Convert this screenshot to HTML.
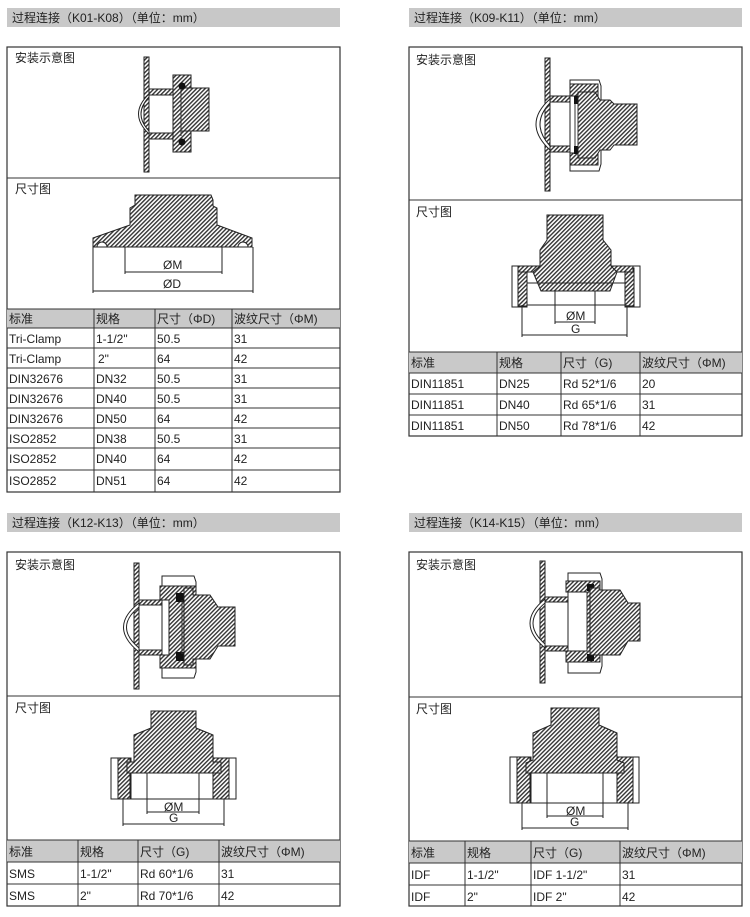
<!DOCTYPE html>
<html><head><meta charset="utf-8"><style>
body{margin:0;background:#fff;}
svg{display:block;font-family:"Liberation Sans","Noto Sans CJK SC",sans-serif;}
text{font-size:12px;fill:#222;}
.hb{fill:#c8c8c8}
.th{fill:#c9c9c9}
.bx{fill:none;stroke:#333;stroke-width:1.2}
.ln{stroke:#333;stroke-width:1}
.h{fill:url(#h);stroke:#222;stroke-width:1}
.w{fill:#fff;stroke:#222;stroke-width:1}
.k{fill:#111}
.d{stroke:#222;stroke-width:1;fill:none}
</style></head><body>
<svg width="750" height="917" viewBox="0 0 750 917">
<defs>
<pattern id="h" width="3" height="3" patternUnits="userSpaceOnUse" patternTransform="rotate(45)">
<rect width="3" height="3" fill="#fff"/><rect width="1.4" height="3" fill="#333"/>
</pattern>
</defs>

<!-- ============ TL ============ -->
<rect class="hb" x="7" y="8" width="333" height="19"/>
<text x="12" y="22">过程连接（K01-K08）（单位：mm）</text>
<rect class="bx" x="7" y="47" width="333" height="445"/>
<line class="ln" x1="7" y1="178" x2="340" y2="178"/>
<text x="15" y="62">安装示意图</text>
<text x="15" y="193">尺寸图</text>
<rect class="h" x="144" y="57" width="5" height="115"/>
<path class="w" d="M149 94 Q128 114 149 134 L149 131 Q133 114 149 97Z"/>
<rect class="h" x="149" y="89" width="32" height="6"/>
<rect class="h" x="149" y="133" width="32" height="6"/>
<rect class="h" x="173" y="75" width="18" height="77"/>
<rect class="h" x="181" y="88" width="28" height="43"/>
<line class="ln" x1="181" y1="92" x2="181" y2="136"/>
<circle class="k" cx="182" cy="86" r="3.5"/><circle class="k" cx="182" cy="142" r="3.5"/>
<path class="h" d="M93 238 L130 225 L130 208 L135 205 L135 195 L211 195 L213 200 L213 206 L217 208 L217 225 L252 238 L252 247 L93 247Z"/>
<path class="w" d="M97 247 A5 5 0 0 1 107 247Z"/><path class="w" d="M238 247 A5 5 0 0 1 248 247Z"/>
<line class="d" x1="125" y1="247" x2="125" y2="274"/><line class="d" x1="222" y1="247" x2="222" y2="274"/>
<line class="d" x1="93" y1="247" x2="93" y2="293"/><line class="d" x1="253" y1="247" x2="253" y2="293"/>
<line class="d" x1="125" y1="272" x2="222" y2="272"/><line class="d" x1="93" y1="291" x2="253" y2="291"/>
<text x="163" y="269">ØM</text><text x="163" y="288">ØD</text>
<rect class="th" x="7" y="309" width="333" height="19"/>
<g class="ln">
<line x1="7" y1="309" x2="340" y2="309"/><line x1="7" y1="328" x2="340" y2="328"/>
<line x1="7" y1="348" x2="340" y2="348"/><line x1="7" y1="368" x2="340" y2="368"/>
<line x1="7" y1="388" x2="340" y2="388"/><line x1="7" y1="408" x2="340" y2="408"/>
<line x1="7" y1="428" x2="340" y2="428"/><line x1="7" y1="448" x2="340" y2="448"/>
<line x1="7" y1="470" x2="340" y2="470"/>
<line x1="94" y1="309" x2="94" y2="492"/><line x1="155" y1="309" x2="155" y2="492"/><line x1="232" y1="309" x2="232" y2="492"/>
</g>
<g>
<text x="9" y="323">标准</text><text x="96" y="323">规格</text><text x="157" y="323">尺寸（ΦD)</text><text x="234" y="323">波纹尺寸（ΦM)</text>
<text x="9" y="343">Tri-Clamp</text><text x="96" y="343">1-1/2"</text><text x="157" y="343">50.5</text><text x="234" y="343">31</text>
<text x="9" y="363">Tri-Clamp</text><text x="98" y="363">2"</text><text x="157" y="363">64</text><text x="234" y="363">42</text>
<text x="9" y="383">DIN32676</text><text x="96" y="383">DN32</text><text x="157" y="383">50.5</text><text x="234" y="383">31</text>
<text x="9" y="403">DIN32676</text><text x="96" y="403">DN40</text><text x="157" y="403">50.5</text><text x="234" y="403">31</text>
<text x="9" y="423">DIN32676</text><text x="96" y="423">DN50</text><text x="157" y="423">64</text><text x="234" y="423">42</text>
<text x="9" y="443">ISO2852</text><text x="96" y="443">DN38</text><text x="157" y="443">50.5</text><text x="234" y="443">31</text>
<text x="9" y="463">ISO2852</text><text x="96" y="463">DN40</text><text x="157" y="463">64</text><text x="234" y="463">42</text>
<text x="9" y="485">ISO2852</text><text x="96" y="485">DN51</text><text x="157" y="485">64</text><text x="234" y="485">42</text>
</g>

<!-- ============ TR ============ -->
<rect class="hb" x="409" y="8" width="333" height="19"/>
<text x="414" y="22">过程连接（K09-K11）（单位：mm）</text>
<rect class="bx" x="409" y="47" width="333" height="389"/>
<line class="ln" x1="409" y1="200" x2="742" y2="200"/>
<text x="416" y="64">安装示意图</text>
<text x="416" y="216">尺寸图</text>
<rect class="h" x="545" y="58" width="5" height="133"/>
<path class="w" d="M550 99 Q522 124 550 150 L550 146 Q530 124 550 103Z"/>
<rect class="h" x="550" y="96" width="30" height="6"/>
<rect class="h" x="550" y="146" width="30" height="6"/>
<path class="w" d="M570 80 L599 80 L601 86 L601 164 L599 171 L570 171Z"/>
<rect class="h" x="570" y="84" width="28" height="12"/>
<rect class="h" x="570" y="153" width="28" height="12"/>
<rect class="k" x="574" y="96" width="6" height="8"/><rect class="k" x="574" y="146" width="6" height="8"/>
<path class="h" d="M578 92 L595 92 L600 100 L610 100 L614 104 L637 104 L637 145 L614 145 L610 150 L600 150 L595 158 L578 158Z"/>
<line class="ln" x1="578" y1="104" x2="578" y2="146"/><line class="ln" x1="575" y1="104" x2="575" y2="146"/>
<rect class="w" x="512" y="266" width="15" height="41"/><rect class="w" x="625" y="266" width="15" height="41"/>
<rect class="h" x="518" y="268" width="9" height="38"/><rect class="h" x="625" y="268" width="9" height="38"/>
<rect class="h" x="518" y="266" width="22" height="6"/><rect class="h" x="611" y="266" width="22" height="6"/>
<path class="h" d="M547 215 L603 215 L603 240 L611 250 L611 266 L617 272 L610 291 L541 291 L533 272 L540 266 L540 250 L547 240Z"/>
<line class="d" x1="527" y1="283" x2="625" y2="283"/>
<line class="d" x1="527" y1="305" x2="625" y2="305"/>
<line class="d" x1="555" y1="291" x2="555" y2="324"/><line class="d" x1="595" y1="291" x2="595" y2="324"/>
<line class="d" x1="522" y1="305" x2="522" y2="337"/><line class="d" x1="627" y1="305" x2="627" y2="337"/>
<line class="d" x1="555" y1="322" x2="595" y2="322"/><line class="d" x1="522" y1="335" x2="627" y2="335"/>
<text x="566" y="320">ØM</text><text x="571" y="333">G</text>
<rect class="th" x="409" y="352" width="333" height="21"/>
<g class="ln">
<line x1="409" y1="352" x2="742" y2="352"/><line x1="409" y1="373" x2="742" y2="373"/>
<line x1="409" y1="394" x2="742" y2="394"/><line x1="409" y1="415" x2="742" y2="415"/>
<line x1="497" y1="352" x2="497" y2="436"/><line x1="561" y1="352" x2="561" y2="436"/><line x1="640" y1="352" x2="640" y2="436"/>
</g>
<text x="411" y="367">标准</text><text x="499" y="367">规格</text><text x="563" y="367">尺寸（G)</text><text x="642" y="367">波纹尺寸（ΦM)</text>
<text x="411" y="388">DIN11851</text><text x="499" y="388">DN25</text><text x="563" y="388">Rd 52*1/6</text><text x="642" y="388">20</text>
<text x="411" y="409">DIN11851</text><text x="499" y="409">DN40</text><text x="563" y="409">Rd 65*1/6</text><text x="642" y="409">31</text>
<text x="411" y="430">DIN11851</text><text x="499" y="430">DN50</text><text x="563" y="430">Rd 78*1/6</text><text x="642" y="430">42</text>

<!-- ============ BL ============ -->
<rect class="hb" x="7" y="513" width="333" height="19"/>
<text x="12" y="527">过程连接（K12-K13）（单位：mm）</text>
<rect class="bx" x="7" y="552" width="333" height="354"/>
<line class="ln" x1="7" y1="696" x2="340" y2="696"/>
<text x="15" y="569">安装示意图</text>
<text x="15" y="712">尺寸图</text>
<rect class="h" x="134" y="563" width="5" height="126"/>
<path class="w" d="M139 603 Q108 627 139 652 L139 648 Q114 627 139 607Z"/>
<rect class="h" x="139" y="600" width="30" height="5"/>
<rect class="h" x="139" y="650" width="30" height="5"/>
<path class="w" d="M162 576 L194 576 L196 582 L196 672 L194 678 L162 678Z"/>
<path class="h" d="M160 586 L196 586 L196 668 L160 668 L160 655 L169 655 L169 600 L160 600Z"/>
<rect class="k" x="176" y="593" width="8" height="9"/><rect class="k" x="176" y="652" width="8" height="9"/>
<path class="h" d="M184 588 L193 588 L193 595 L210 595 L218 607 L235 607 L235 646 L218 646 L210 659 L193 659 L193 665 L184 665Z"/>
<line class="ln" x1="182" y1="600" x2="182" y2="654"/>
<rect class="w" x="111" y="758" width="20" height="41"/><rect class="w" x="213" y="758" width="23" height="41"/>
<rect class="h" x="118" y="758" width="12" height="41"/><rect class="h" x="213" y="758" width="16" height="41"/>
<path class="h" d="M151 711 L196 711 L196 728 L213 735 L213 762 L221 762 L221 773 L127 773 L127 762 L134 762 L134 735 L151 728Z"/>
<line class="d" x1="123" y1="799" x2="229" y2="799"/>
<line class="d" x1="147" y1="773" x2="147" y2="814"/><line class="d" x1="199" y1="773" x2="199" y2="814"/>
<line class="d" x1="123" y1="799" x2="123" y2="826"/><line class="d" x1="224" y1="799" x2="224" y2="826"/>
<line class="d" x1="147" y1="812" x2="199" y2="812"/><line class="d" x1="123" y1="824" x2="224" y2="824"/>
<text x="164" y="811">ØM</text><text x="169" y="822">G</text>
<rect class="th" x="7" y="840" width="333" height="22"/>
<g class="ln">
<line x1="7" y1="840" x2="340" y2="840"/><line x1="7" y1="862" x2="340" y2="862"/><line x1="7" y1="884" x2="340" y2="884"/>
<line x1="78" y1="840" x2="78" y2="906"/><line x1="138" y1="840" x2="138" y2="906"/><line x1="219" y1="840" x2="219" y2="906"/>
</g>
<text x="9" y="856">标准</text><text x="80" y="856">规格</text><text x="140" y="856">尺寸（G)</text><text x="221" y="856">波纹尺寸（ΦM)</text>
<text x="9" y="878">SMS</text><text x="80" y="878">1-1/2"</text><text x="140" y="878">Rd 60*1/6</text><text x="221" y="878">31</text>
<text x="9" y="900">SMS</text><text x="80" y="900">2"</text><text x="140" y="900">Rd 70*1/6</text><text x="221" y="900">42</text>

<!-- ============ BR ============ -->
<rect class="hb" x="409" y="513" width="333" height="19"/>
<text x="414" y="527">过程连接（K14-K15）（单位：mm）</text>
<rect class="bx" x="409" y="552" width="333" height="354"/>
<line class="ln" x1="409" y1="697" x2="742" y2="697"/>
<text x="416" y="569">安装示意图</text>
<text x="416" y="713">尺寸图</text>
<rect class="h" x="540" y="561" width="5" height="122"/>
<path class="w" d="M545 599 Q515 623 545 648 L545 644 Q521 623 545 603Z"/>
<rect class="h" x="545" y="597" width="30" height="5"/>
<rect class="h" x="545" y="646" width="30" height="5"/>
<path class="w" d="M568 573 L600 573 L602 579 L602 666 L600 673 L568 673Z"/>
<path class="h" d="M566 581 L600 581 L600 662 L566 662 L566 651 L587 651 L587 592 L566 592Z"/>
<rect class="k" x="587" y="584" width="7" height="7"/><rect class="k" x="587" y="654" width="7" height="7"/>
<path class="h" d="M590 588 L600 588 L600 590 L620 590 L628 603 L640 603 L640 641 L628 641 L620 655 L600 655 L590 655Z"/>
<line class="ln" x1="587" y1="592" x2="587" y2="651"/>
<rect class="w" x="510" y="757" width="21" height="46"/><rect class="w" x="617" y="757" width="22" height="46"/>
<rect class="h" x="517" y="757" width="13" height="46"/><rect class="h" x="617" y="757" width="16" height="46"/>
<path class="h" d="M551 708 L599 708 L599 725 L617 733 L617 760 L624 763 L624 773 L526 773 L526 763 L533 760 L533 733 L551 725Z"/>
<line class="d" x1="522" y1="803" x2="628" y2="803"/>
<line class="d" x1="547" y1="773" x2="547" y2="818"/><line class="d" x1="603" y1="773" x2="603" y2="818"/>
<line class="d" x1="522" y1="803" x2="522" y2="830"/><line class="d" x1="628" y1="803" x2="628" y2="830"/>
<line class="d" x1="547" y1="816" x2="603" y2="816"/><line class="d" x1="522" y1="828" x2="628" y2="828"/>
<text x="566" y="815">ØM</text><text x="570" y="826">G</text>
<rect class="th" x="409" y="841" width="333" height="22"/>
<g class="ln">
<line x1="409" y1="841" x2="742" y2="841"/><line x1="409" y1="863" x2="742" y2="863"/><line x1="409" y1="885" x2="742" y2="885"/>
<line x1="465" y1="841" x2="465" y2="906"/><line x1="531" y1="841" x2="531" y2="906"/><line x1="620" y1="841" x2="620" y2="906"/>
</g>
<text x="411" y="857">标准</text><text x="467" y="857">规格</text><text x="533" y="857">尺寸（G)</text><text x="622" y="857">波纹尺寸（ΦM)</text>
<text x="411" y="879">IDF</text><text x="467" y="879">1-1/2"</text><text x="533" y="879">IDF 1-1/2"</text><text x="622" y="879">31</text>
<text x="411" y="901">IDF</text><text x="467" y="901">2"</text><text x="533" y="901">IDF 2"</text><text x="622" y="901">42</text>
</svg>
</body></html>
